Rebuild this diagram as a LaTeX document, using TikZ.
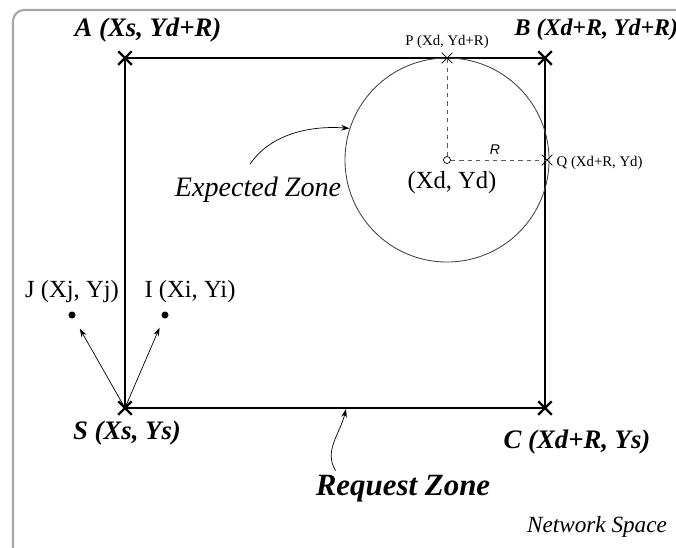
\documentclass[tikz,border=0pt]{standalone}
\usepackage{fontspec}
\setmainfont{Liberation Serif}
\setsansfont{Liberation Sans}
\usetikzlibrary{shapes.misc, arrows.meta, positioning, calc}
\tikzset{
    crossmark/.style={cross out, draw, line width=1.6pt, minimum size=8pt, inner sep=0pt},
    tinycrossmark/.style={cross out, draw, line width=0.5pt, minimum size=7pt, inner sep=0pt},
    cornerlabel/.style={font=\fontsize{19}{19}\selectfont\bfseries\itshape, inner sep=1pt},
    coordlabel/.style={font=\fontsize{17.5}{18}\selectfont, inner sep=1pt},
    smalllabel/.style={font=\fontsize{10.5}{11}\selectfont, inner sep=1pt},
    hostdot/.style={circle, fill, inner sep=0pt, minimum size=5pt},
    zoneedge/.style={line width=2pt},
    pointer/.style={-{Stealth[length=6pt, width=4pt]}, line width=0.5pt},
    radiusline/.style={dashed, line width=0.5pt, gray!70!black},
}

\begin{document}
\begin{tikzpicture}[x=0.025cm, y=-0.025cm]
    \useasboundingbox (0,0) rectangle (676,547);

    % Network space frame
    \begin{scope}
        \clip (0,0) rectangle (676,547);
        \draw[gray!70, line width=1.5pt, rounded corners=8pt] (13,10) rectangle (720,600);
    \end{scope}

    % Request zone
    \node[crossmark] (S) at (125,408) {};
    \node[crossmark] (A) at (125,58) {};
    \node[crossmark] (B) at (545,58) {};
    \node[crossmark] (C) at (545,408) {};
    \draw[zoneedge] (S.center) -- (A.center) -- (B.center) -- (C.center) -- cycle;

    % Expected zone
    \node[circle, draw, gray!50!black, line width=0.6pt, minimum size=5.1cm] (zone) at (447,160) {};
    \node[circle, draw, line width=0.5pt, inner sep=0pt, minimum size=5pt] (D) at (447,160) {};
    \node[tinycrossmark] (P) at (447,58) {};
    \node[tinycrossmark] (Q) at (547,160) {};
    \draw[radiusline] (D) -- (P.center);
    \draw[radiusline] (D) -- (Q.center);

    % Corner labels
    \node[cornerlabel] (Alabel) at (148,30) {A (Xs, Yd+R)};
    \node[cornerlabel, font=\fontsize{17}{17}\selectfont\bfseries\itshape, anchor=west] (Blabel) at (513,30) {B (Xd+R, Yd+R)};
    \node[cornerlabel] (Slabel) at (127,433) {S (Xs, Ys)};
    \node[cornerlabel] (Clabel) at (577,442) {C (Xd+R, Ys)};
    \node[smalllabel] (Plabel) at (447,42) {P (Xd, Yd+R)};
    \node[smalllabel, anchor=west] (Qlabel) at (555,163) {Q (Xd+R, Yd)};
    \node[coordlabel] (Dlabel) at (452,183) {(Xd, Yd)};
    \node[font=\sffamily\itshape\fontsize{10}{10}\selectfont] (Rlabel) at (495,150) {R};

    % Zone names
    \node[font=\fontsize{20}{20}\selectfont\itshape] (ez) at (258,190) {Expected Zone};
    \draw[pointer] ([shift={(-8,-8)}]ez.north) .. controls +(20,-30) and +(-40,-3) .. (zone.162);
    \node[font=\fontsize{22}{22}\selectfont\bfseries\itshape] (rz) at (403,489) {Request Zone};
    \coordinate (rzpt) at (346,409);
    \draw[pointer] ([xshift=-48]rz.north) .. controls +(-12,-20) and +(-6,25) .. (rzpt);
    \node[font=\fontsize{16.5}{17}\selectfont\itshape] (ns) at (597,527) {Network Space};

    % Neighbour nodes
    \node[hostdot] (J) at (72,315) {};
    \node[hostdot] (I) at (165,315) {};
    \node[coordlabel] (Jlabel) at (72,292) {J (Xj, Yj)};
    \node[coordlabel] (Ilabel) at (190,292) {I (Xi, Yi)};
    \draw[pointer, shorten >=0.3cm] (S.center) -- (J);
    \draw[pointer, shorten >=0.25cm] (S.center) -- (I);
\end{tikzpicture}
\end{document}
